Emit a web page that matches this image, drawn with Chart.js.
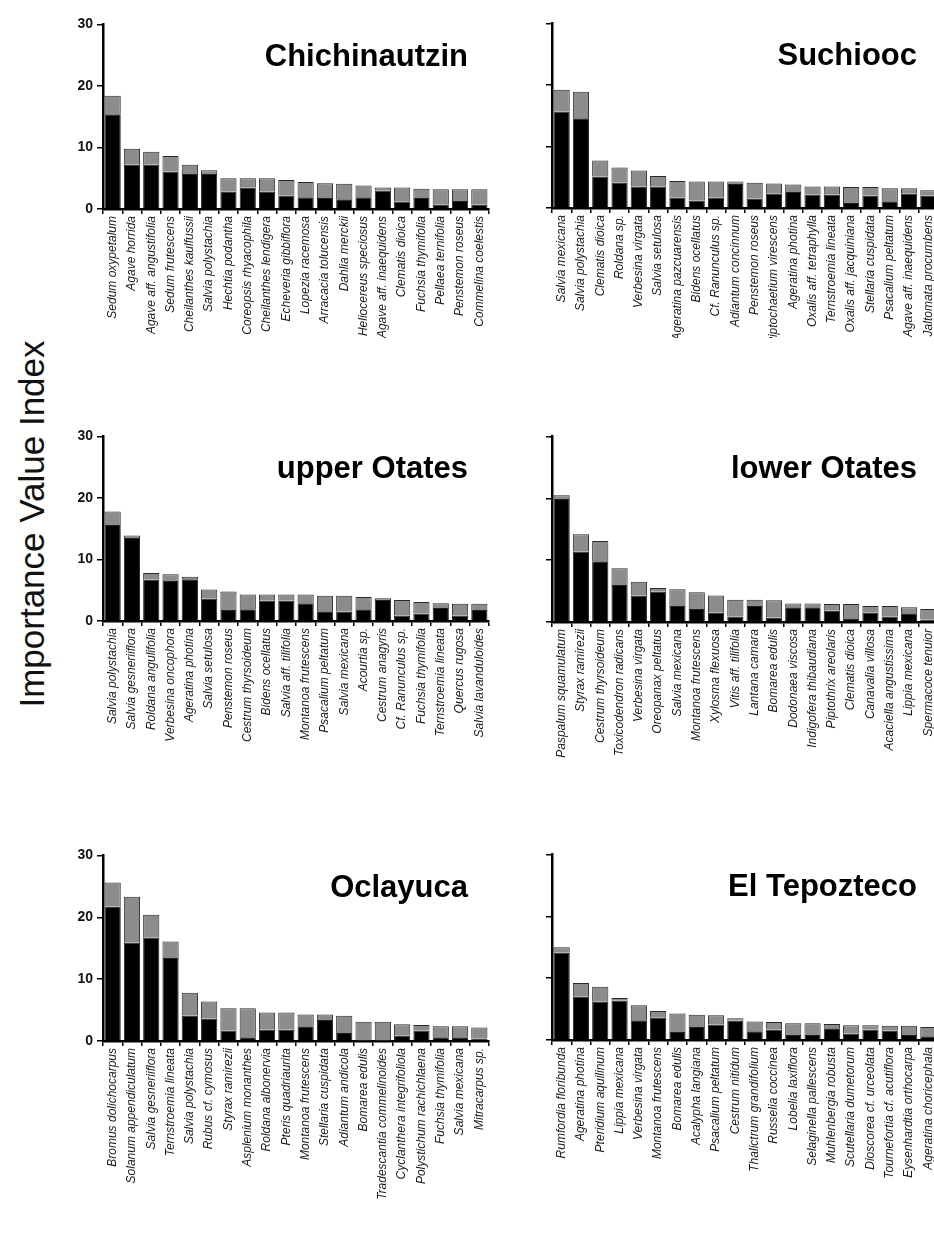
<!DOCTYPE html>
<html>
<head>
<meta charset="utf-8">
<script src="https://cdn.jsdelivr.net/npm/chart.js@4/dist/chart.umd.min.js"></script>
<style>
  html, body { margin: 0; padding: 0; background: #fff; }
  body { width: 934px; height: 1253px; position: relative; overflow: hidden; }
  canvas { position: absolute; }
  #ylab {
    position: absolute; width: 420px; height: 40px; line-height: 40px;
    left: -178px; top: 504px; text-align: center;
    font-family: "Liberation Sans", Arial, sans-serif; font-size: 35px; color: #111;
    transform: rotate(-90deg); white-space: nowrap;
  }
</style>
</head>
<body>
<div id="ylab">Importance Value Index</div>
<canvas id="c1"></canvas>
<canvas id="c2"></canvas>
<canvas id="c3"></canvas>
<canvas id="c4"></canvas>
<canvas id="c5"></canvas>
<canvas id="c6"></canvas>
<script>
// Importance Value Index per species; dark = lower segment, light = upper segment of each bar
const yTicks = [0, 10, 20, 30];

const chichinautzinSpecies = ["Sedum oxypetalum", "Agave horrida", "Agave aff. angustifolia", "Sedum frutescens", "Cheilanthes kaulfussii", "Salvia polystachia", "Hechtia podantha", "Coreopsis rhyacophila", "Cheilanthes lendigera", "Echeveria gibbiflora", "Lopezia racemosa", "Arracacia tolucensis", "Dahlia merckii", "Heliocereus speciosus", "Agave aff. inaequidens", "Clematis dioica", "Fuchsia thymifolia", "Pellaea ternifolia", "Penstemon roseus", "Commelina coelestis"];
const chichinautzinDark = [15.4, 7.2, 7.2, 6.1, 5.7, 5.7, 2.8, 3.5, 2.8, 2.2, 1.9, 1.8, 1.6, 1.9, 3.0, 1.2, 1.8, 0.7, 1.3, 0.7];
const chichinautzinLight = [3.0, 2.6, 2.1, 2.5, 1.5, 0.6, 2.2, 1.5, 2.2, 2.5, 2.5, 2.4, 2.5, 1.9, 0.5, 2.3, 1.5, 2.5, 1.9, 2.5];

const suchioocSpecies = ["Salvia mexicana", "Salvia polystachia", "Clematis dioica", "Roldana sp.", "Verbesina virgata", "Salvia setulosa", "Ageratina pazcuarensis", "Bidens ocellatus", "Cf. Ranunculus sp.", "Adiantum concinnum", "Penstemon roseus", "Piptochaetium virescens", "Ageratina photina", "Oxalis aff. tetraphylla", "Ternstroemia lineata", "Oxalis aff. jacquiniana", "Stellaria cuspidata", "Psacalium peltatum", "Agave aff. inaequidens", "Jaltomata procumbens"];
const suchioocDark = [15.7, 14.6, 5.1, 4.1, 3.5, 3.5, 1.7, 1.2, 1.7, 3.9, 1.5, 2.3, 2.6, 2.2, 2.2, 0.8, 2.0, 1.1, 2.3, 2.0];
const suchioocLight = [3.5, 4.3, 2.6, 2.5, 2.6, 1.7, 2.7, 3.1, 2.6, 0.4, 2.6, 1.7, 1.2, 1.3, 1.3, 2.6, 1.4, 2.1, 0.9, 0.9];

const upperOtatesSpecies = ["Salvia polystachia", "Salvia gesneriiflora", "Roldana angulifolia", "Verbesina oncophora", "Ageratina photina", "Salvia setulosa", "Penstemon roseus", "Cestrum thyrsoideum", "Bidens ocellatus", "Salvia aff. tilifolia", "Montanoa frutescens", "Psacalium peltatum", "Salvia mexicana", "Acourtia sp.", "Cestrum anagyris", "Cf. Ranunculus sp.", "Fuchsia thymifolia", "Ternstroemia lineata", "Quercus rugosa", "Salvia lavanduloides"];
const upperOtatesDark = [15.6, 13.5, 6.7, 6.5, 6.8, 3.6, 1.8, 1.9, 3.3, 3.3, 2.9, 1.6, 1.5, 1.9, 3.4, 0.9, 1.2, 2.1, 0.9, 1.8];
const upperOtatesLight = [2.2, 0.4, 1.1, 1.1, 0.4, 1.5, 3.0, 2.4, 1.0, 1.0, 1.4, 2.5, 2.6, 2.0, 0.3, 2.5, 1.9, 0.8, 1.9, 1.0];

const lowerOtatesSpecies = ["Paspalum squamulatum", "Styrax ramirezii", "Cestrum thyrsoideum", "Toxicodendron radicans", "Verbesina virgata", "Oreopanax peltatus", "Salvia mexicana", "Montanoa frutescens", "Xylosma flexuosa", "Vitis aff. tilifolia", "Lantana camara", "Bomarea edulis", "Dodonaea viscosa", "Indigofera thibaudiana", "Piptothrix areolaris", "Clematis dioica", "Canavalia villosa", "Acaciella angustissima", "Lippia mexicana", "Spermacoce tenuior"];
const lowerOtatesDark = [19.9, 11.4, 9.8, 6.0, 4.3, 4.9, 2.6, 2.1, 1.5, 0.9, 2.6, 0.7, 2.4, 2.4, 1.8, 0.6, 1.5, 0.9, 1.4, 0.4];
const lowerOtatesLight = [0.6, 2.8, 3.3, 2.7, 2.2, 0.6, 2.7, 2.7, 2.8, 2.7, 1.0, 2.8, 0.6, 0.6, 1.1, 2.3, 1.1, 1.7, 1.0, 1.7];

const oclayucaSpecies = ["Bromus dolichocarpus", "Solanum appendiculatum", "Salvia gesneriiflora", "Ternstroemia lineata", "Salvia polystachia", "Rubus cf. cymosus", "Styrax ramirezii", "Asplenium monanthes", "Roldana albonervia", "Pteris quadriaurita", "Montanoa frutescens", "Stellaria cuspidata", "Adiantum andicola", "Bomarea edulis", "Tradescantia commelinoides", "Cyclanthera integrifoliola", "Polystichum rachichlaena", "Fuchsia thymifolia", "Salvia mexicana", "Mitracarpus sp."];
const oclayucaDark = [21.7, 15.9, 16.7, 13.4, 4.1, 3.6, 1.7, 0.6, 1.8, 1.8, 2.4, 3.4, 1.3, 0.1, 0.1, 0.9, 1.7, 0.6, 0.6, 0.4];
const oclayucaLight = [3.9, 7.4, 3.7, 2.7, 3.7, 2.8, 3.6, 4.7, 2.8, 2.8, 1.9, 0.9, 2.8, 3.0, 3.0, 1.8, 0.9, 1.8, 1.8, 1.8];

const tepoztecoSpecies = ["Rumfordia floribunda", "Ageratina photina", "Pteridium aquilinum", "Lippia mexicana", "Verbesina virgata", "Montanoa frutescens", "Bomarea edulis", "Acalypha langiana", "Psacalium peltatum", "Cestrum nitidum", "Thalictrum grandifolium", "Russelia coccinea", "Lobelia laxiflora", "Selaginella pallescens", "Muhlenbergia robusta", "Scutellaria dumetorum", "Dioscorea cf. urceolata", "Tournefortia cf. acutiflora", "Eysenhardtia orthocarpa", "Ageratina choricephala"];
const tepoztecoDark = [14.1, 7.0, 6.2, 6.4, 3.2, 3.6, 1.3, 2.1, 2.5, 3.1, 1.4, 1.7, 0.8, 0.8, 1.9, 1.0, 1.7, 1.5, 0.8, 0.6];
const tepoztecoLight = [0.9, 2.2, 2.4, 0.4, 2.4, 1.1, 3.0, 2.0, 1.5, 0.4, 1.6, 1.2, 1.9, 1.9, 0.7, 1.4, 0.7, 0.8, 1.5, 1.5];

const FONT = '"Liberation Sans", Arial, sans-serif';
Chart.defaults.font.family = FONT;

// Site name drawn inside the plot, right aligned
const siteTitle = {
  id: 'siteTitle',
  afterDraw(chart, args, opts) {
    const { ctx, chartArea } = chart;
    ctx.save();
    ctx.font = 'bold 31px ' + FONT;
    ctx.fillStyle = '#000';
    ctx.textAlign = 'right';
    ctx.textBaseline = 'alphabetic';
    ctx.fillText(opts.text, chartArea.left + 365, chartArea.top + 42);
    ctx.restore();
  }
};

const PLOT_W = 386;
const PAD_TOP = 10, PAD_RIGHT = 8;

function panel(id, title, species, dark, light, opt) {
  const canvas = document.getElementById(id);
  const w = opt.yW + PLOT_W + PAD_RIGHT;
  const h = PAD_TOP + opt.plotH + opt.xH;
  canvas.width = w; canvas.height = h;
  canvas.style.width = w + 'px'; canvas.style.height = h + 'px';
  canvas.style.left = (opt.axisX - opt.yW) + 'px';
  canvas.style.top = (opt.topY - PAD_TOP) + 'px';

  new Chart(canvas, {
    type: 'bar',
    data: {
      labels: species,
      datasets: [
        { data: dark, backgroundColor: '#000000', borderColor: '#222', borderWidth: 1, stack: 's' },
        { data: light, backgroundColor: '#8c8c8c', borderColor: '#2a2a2a', borderWidth: 1, stack: 's' }
      ]
    },
    options: {
      responsive: false,
      animation: false,
      devicePixelRatio: 1,
      layout: { padding: { top: PAD_TOP, right: PAD_RIGHT, left: 0, bottom: 0 } },
      plugins: { legend: { display: false }, tooltip: { enabled: false }, siteTitle: { text: title } },
      datasets: { bar: { barPercentage: 0.84, categoryPercentage: 1.0 } },
      scales: {
        x: {
          stacked: true,
          offset: true,
          afterFit: s => { s.height = opt.xH; },
          border: { display: true, color: '#000', width: 2.5 },
          grid: { display: true, drawOnChartArea: false, drawTicks: true, tickLength: 5, color: '#000', lineWidth: 1.5, offset: true },
          ticks: {
            autoSkip: false, minRotation: 90, maxRotation: 90, padding: 2,
            color: '#1a1a1a', font: { family: FONT, size: 12, style: 'italic' }
          }
        },
        y: {
          stacked: true,
          min: 0, max: 30,
          afterFit: s => { s.width = opt.yW; },
          afterBuildTicks: s => { s.ticks = yTicks.map(v => ({ value: v })); },
          border: { display: true, color: '#000', width: 2.5 },
          grid: { display: true, drawOnChartArea: false, drawTicks: true, tickLength: 6, color: '#000', lineWidth: 1.5 },
          ticks: {
            padding: 4, color: '#111',
            font: { family: FONT, size: 14, weight: 'bold' },
            callback: v => opt.showY ? String(v) : ''
          }
        }
      }
    },
    plugins: [siteTitle]
  });
}

const L = { axisX: 103, yW: 63, showY: true };
const R = { axisX: 552, yW: 50, showY: false };

panel('c1', 'Chichinautzin', chichinautzinSpecies, chichinautzinDark, chichinautzinLight, Object.assign({}, L, { topY: 22, plotH: 187, xH: 130 }));
panel('c2', 'Suchiooc', suchioocSpecies, suchioocDark, suchioocLight, Object.assign({}, R, { topY: 21, plotH: 187, xH: 130 }));
panel('c3', 'upper Otates', upperOtatesSpecies, upperOtatesDark, upperOtatesLight, Object.assign({}, L, { topY: 434, plotH: 187, xH: 140 }));
panel('c4', 'lower Otates', lowerOtatesSpecies, lowerOtatesDark, lowerOtatesLight, Object.assign({}, R, { topY: 434, plotH: 188, xH: 140 }));
panel('c5', 'Oclayuca', oclayucaSpecies, oclayucaDark, oclayucaLight, Object.assign({}, L, { topY: 853, plotH: 188, xH: 205 }));
panel('c6', 'El Tepozteco', tepoztecoSpecies, tepoztecoDark, tepoztecoLight, Object.assign({}, R, { topY: 852, plotH: 188, xH: 205 }));
</script>
</body>
</html>
